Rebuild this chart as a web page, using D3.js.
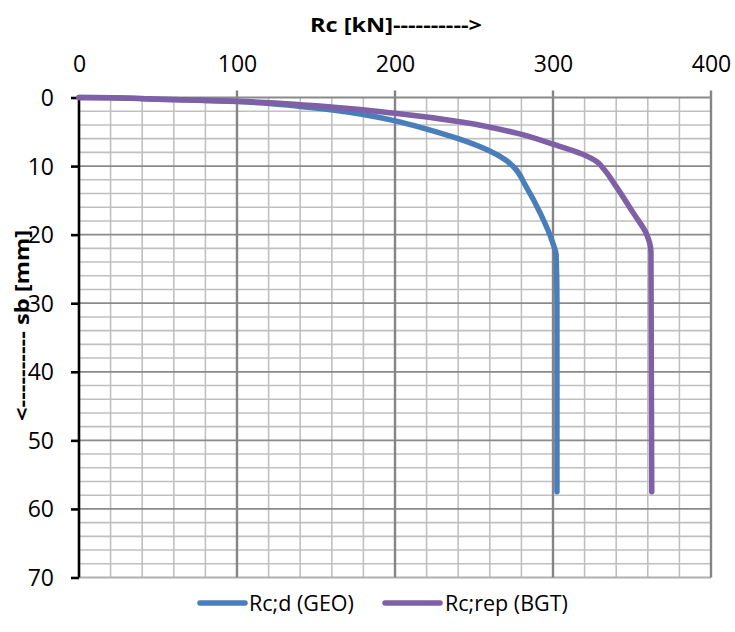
<!DOCTYPE html>
<html><head><meta charset="utf-8">
<script src="https://cdn.jsdelivr.net/npm/d3@7"></script>
<style>body{margin:0;background:#fff}svg{display:block}</style>
</head><body>
<svg id="c" width="735" height="632"></svg>
<script>
// Data
const geoRc = [0, 20, 50, 100, 140, 170, 200, 220, 240, 260, 270, 275, 283, 292, 300, 302, 302.5, 302.5];
const geoSb = [0, 0.05, 0.25, 0.6, 1.3, 2.1, 3.4, 4.6, 6.0, 7.8, 9.1, 10.1, 13, 16.9, 21.3, 23, 30, 57.5];
const bgtRc = [0, 20, 50, 100, 140, 200, 243, 277, 300, 318, 328, 332, 340, 351, 359, 362, 362.5];
const bgtSb = [0, 0.05, 0.25, 0.55, 1.05, 2.3, 3.6, 5.2, 6.8, 8.2, 9.4, 10.4, 13, 16.9, 19.8, 22.5, 57.5];
const xTicks = [0, 100, 200, 300, 400];
const yTicks = [0, 10, 20, 30, 40, 50, 60, 70];
const seriesNames = ["Rc;d (GEO)", "Rc;rep (BGT)"];
const colors = ["#4a7ebb", "#7f5fa5"];

const svg = d3.select("#c");
const L = 79, R = 711, T = 97.5, B = 577.5;
const x = d3.scaleLinear().domain([0, 400]).range([L, R]);
const y = d3.scaleLinear().domain([0, 70]).range([T, B]);
const FONT = "Open Sans";

const g = svg.append("g");
// minor grid
g.selectAll(".mx").data(d3.range(0, 401, 20).filter(v => v % 100)).enter().append("line")
  .attr("x1", d => x(d)).attr("x2", d => x(d)).attr("y1", T).attr("y2", B)
  .attr("stroke", "#c0c0c0").attr("stroke-width", 1.6);
g.selectAll(".my").data(d3.range(0, 71, 2).filter(v => v % 10)).enter().append("line")
  .attr("x1", L).attr("x2", R).attr("y1", d => y(d)).attr("y2", d => y(d))
  .attr("stroke", "#c0c0c0").attr("stroke-width", 1.6);
// major grid
g.selectAll(".My").data(yTicks.filter(v => v > 0)).enter().append("line")
  .attr("x1", L).attr("x2", R).attr("y1", d => y(d)).attr("y2", d => y(d))
  .attr("stroke", d => d === 70 ? "#b0b0b0" : "#8a8a8a").attr("stroke-width", 1.8);
g.selectAll(".Mx").data(xTicks.filter(v => v > 0)).enter().append("line")
  .attr("x1", d => x(d)).attr("x2", d => x(d)).attr("y1", T - 7).attr("y2", B)
  .attr("stroke", "#858585").attr("stroke-width", 2.4);
// top axis line
g.append("line").attr("x1", L).attr("x2", R).attr("y1", T).attr("y2", T)
  .attr("stroke", "#8a8a8a").attr("stroke-width", 1.8);

// top axis labels
const xAxis = d3.axisTop(x).tickValues(xTicks).tickSize(0).tickPadding(0);
const xa = svg.append("g").attr("transform", `translate(0,${T})`).call(xAxis);
xa.select(".domain").remove();
xa.selectAll("text").attr("font-family", FONT).attr("font-size", 23).attr("fill", "#000")
  .attr("y", -26).attr("dy", 0);

// left axis
const yAxis = d3.axisLeft(y).tickValues(yTicks).tickSize(8).tickPadding(8);
const ya = svg.append("g").attr("transform", `translate(${L},0)`).call(yAxis);
ya.select(".domain").attr("stroke", "#000").attr("stroke-width", 2.6).attr("d", `M0,${T}V${B}`);
ya.selectAll(".tick line").attr("stroke", "#000").attr("stroke-width", 2.6);
ya.selectAll("text").attr("font-family", FONT).attr("font-size", 23).attr("fill", "#000")
  .attr("x", -25).attr("dy", "0.35em");

// lines
const line = d3.line().x(d => x(d[0])).y(d => y(d[1])).curve(d3.curveMonotoneY);
const geo = geoRc.map((v, i) => [v, geoSb[i]]);
const bgt = bgtRc.map((v, i) => [v, bgtSb[i]]);
[geo, bgt].forEach((data, i) => {
  svg.append("path").datum(data).attr("d", line).attr("fill", "none")
    .attr("stroke", colors[i]).attr("stroke-width", 5.5).attr("stroke-linecap", "round").attr("stroke-linejoin", "round");
});

// titles
svg.append("text").attr("x", 396).attr("y", 31.7).attr("text-anchor", "middle")
  .attr("font-family", FONT).attr("font-weight", "bold").attr("font-size", 19)
  .attr("textLength", 172).attr("lengthAdjust", "spacingAndGlyphs")
  .text("Rc [kN]---------->");
svg.append("text").attr("transform", "translate(29,325.5) rotate(-90)").attr("text-anchor", "middle")
  .attr("font-family", FONT).attr("font-weight", "bold").attr("font-size", 19)
  .attr("textLength", 191).attr("lengthAdjust", "spacingAndGlyphs")
  .text("<---------- sb [mm]");

// legend
const lg = [[200, 245, 249], [385, 440, 445]];
lg.forEach((p, i) => {
  svg.append("line").attr("x1", p[0]).attr("x2", p[1]).attr("y1", 603).attr("y2", 603)
    .attr("stroke", colors[i]).attr("stroke-width", 5.5).attr("stroke-linecap", "round");
  svg.append("text").attr("x", p[2]).attr("y", 610.5).attr("font-family", FONT).attr("font-size", 21.5)
    .text(seriesNames[i]);
});
</script>
</body></html>
